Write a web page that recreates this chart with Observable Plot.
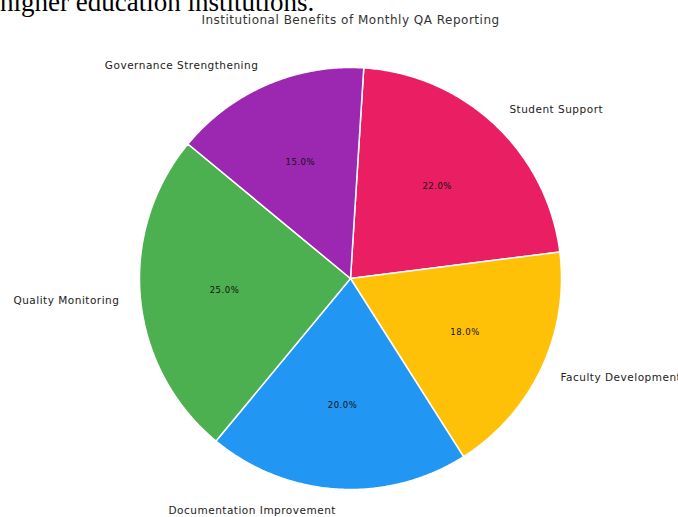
<!DOCTYPE html>
<html><head><meta charset="utf-8">
<script src="https://cdn.jsdelivr.net/npm/d3@7"></script>
<script src="https://cdn.jsdelivr.net/npm/@observablehq/plot@0.6"></script>
<style>
body{margin:0;background:#fff;width:678px;height:517px;overflow:hidden;position:relative}
#frag{position:absolute;left:0;top:-11px;font-family:"Liberation Serif",serif;font-size:27px;line-height:27px;color:#000;white-space:nowrap}
#chart{position:absolute;left:0;top:0}
</style></head><body>
<div id="frag">higher education institutions.</div>
<div id="chart"></div>
<script>
const title = "Institutional Benefits of Monthly QA Reporting";
const categories = ["Student Support","Faculty Development","Documentation Improvement","Quality Monitoring","Governance Strengthening"];
const shares = [22,18,20,25,15];
const colors = ["#E91E63","#FFC107","#2196F3","#4CAF50","#9C27B0"];

// layout
const W = 678, H = 517, cx = 350, cy = 278, R = 211;
const startDeg = 3.6; // clockwise from 12 o'clock
const font = "'DejaVu Sans', sans-serif";

const total = d3.sum(shares);
let acc = 0;
const slices = categories.map((c, i) => {
  const a0 = startDeg + acc / total * 360;
  acc += shares[i];
  const a1 = startDeg + acc / total * 360;
  return {cat: c, value: shares[i], a0, a1, mid: (a0 + a1) / 2};
});
const rad = d => d * Math.PI / 180;
const pt = (deg, r) => ({x: r * Math.sin(rad(deg)), y: r * Math.cos(rad(deg))});

const poly = [];
for (const s of slices) {
  poly.push({cat: s.cat, ...pt(0, 0)});
  const n = Math.ceil((s.a1 - s.a0) / 0.5);
  for (let k = 0; k <= n; k++) poly.push({cat: s.cat, ...pt(s.a0 + (s.a1 - s.a0) * k / n, 1)});
}
const labels = slices.map(s => ({...s, ...pt(s.mid, 1.1)}));
const pcts = slices.map(s => ({...s, ...pt(s.mid, 0.6), txt: s.value.toFixed(1) + "%"}));

const chart = Plot.plot({
  width: W, height: H, margin: 0,
  x: {domain: [-cx / R, (W - cx) / R], axis: null},
  y: {domain: [-(H - cy) / R, cy / R], axis: null},
  color: {domain: categories, range: colors},
  style: {background: "transparent", fontFamily: font, letterSpacing: "0.5px"},
  marks: [
    Plot.line(poly, {x: "x", y: "y", z: "cat", fill: "cat", stroke: "white", strokeWidth: 1.5, strokeLinejoin: "round", curve: "linear-closed"}),
    Plot.text(labels.filter(d => d.x >= 0), {x: "x", y: "y", text: "cat", textAnchor: "start", fontSize: 10.5, fill: "#222"}),
    Plot.text(labels.filter(d => d.x < 0), {x: "x", y: "y", text: "cat", textAnchor: "end", fontSize: 10.5, fill: "#222"}),
    Plot.text(pcts, {x: "x", y: "y", text: "txt", fontSize: 8.5, fill: "#111"}),
    Plot.text([title], {x: () => 0, y: () => (cy - 20) / R, text: d => d, fontSize: 12, fill: "#333"})
  ]
});
document.getElementById("chart").append(chart);
</script>
</body></html>
